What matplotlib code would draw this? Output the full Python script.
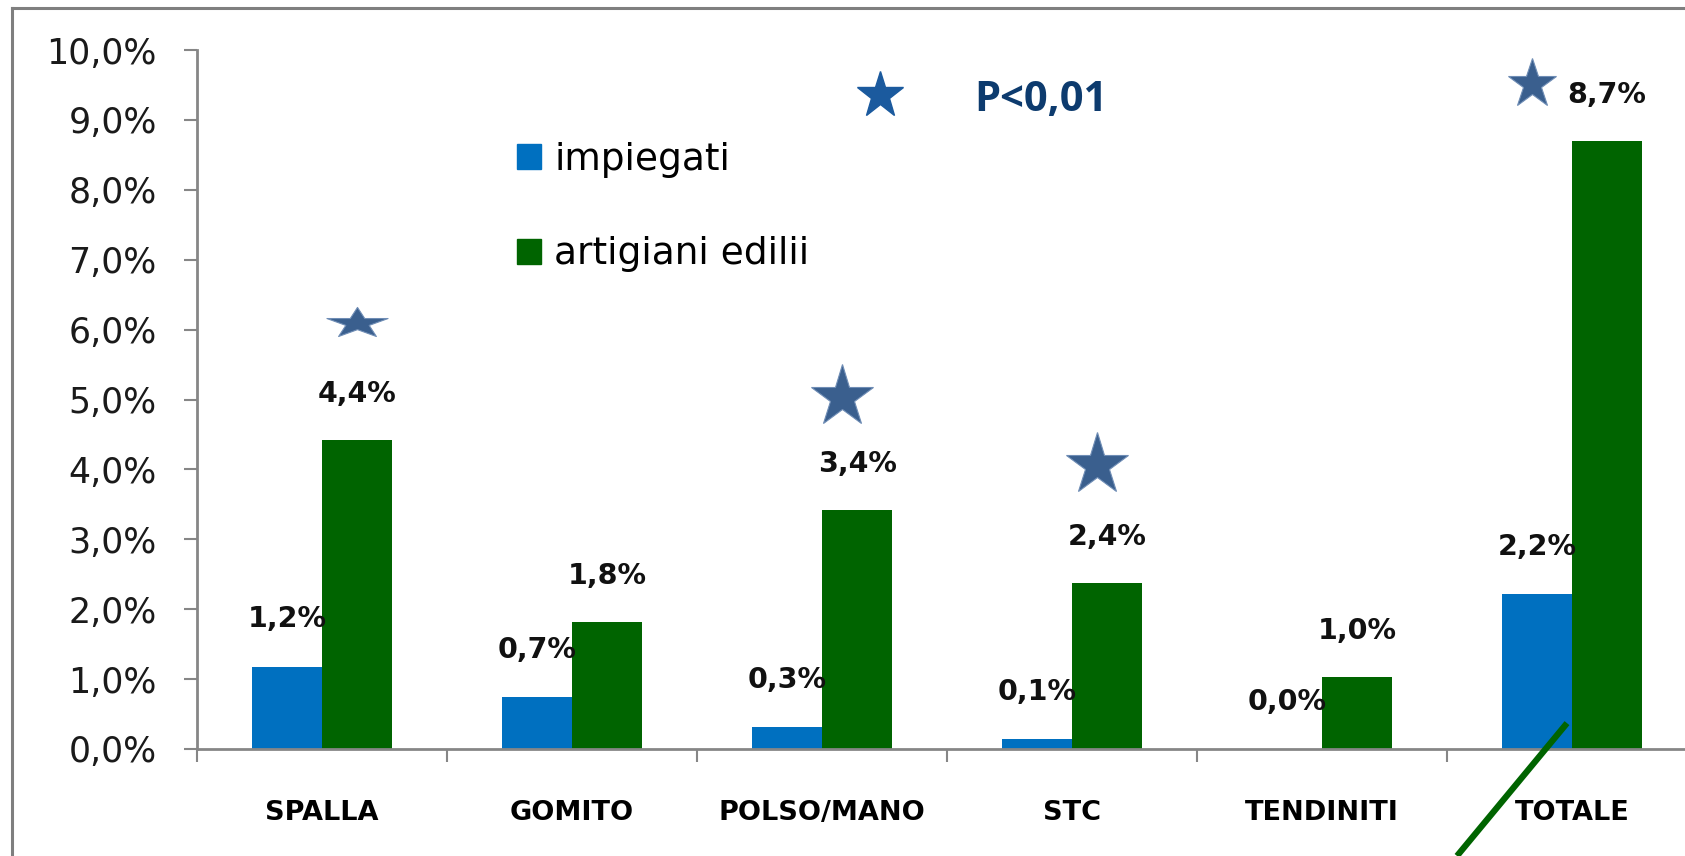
import numpy as np
import matplotlib.pyplot as plt
from matplotlib.lines import Line2D
from matplotlib.patches import Patch
from matplotlib.path import Path
from matplotlib.transforms import Affine2D

plt.rcParams['font.family'] = ['DejaVu Sans']

# dati
categories = ["SPALLA", "GOMITO", "POLSO/MANO", "STC", "TENDINITI", "TOTALE"]
impiegati = [1.18, 0.74, 0.31, 0.14, 0.0, 2.22]
artigiani = [4.42, 1.82, 3.42, 2.38, 1.03, 8.70]
series_names = ["impiegati", "artigiani edilii"]

# stelle di significativita (posizione in unita dei dati)
star_x = [0.14, 2.08, 3.10, 4.84]
star_y = [6.10, 5.03, 4.07, 9.52]
star_ms = [44, 47, 47, 37]
star_flat = [True, False, False, False]
legend_star = (2.23, 9.36)
p_text = "P<0,01"
p_pos = (2.61, 9.28)

# freccia verde sul totale
pointer_x = [4.98, 4.54]
pointer_y = [0.37, -1.53]

BLUE = "#0070C0"
GREEN = "#006400"
GRAY = "#868686"
STAR = "#3a5f8e"


def pct(v):
    return f"{v:.1f}%".replace(".", ",")


fig = plt.figure(figsize=(16.85, 8.56), dpi=100)
ax = fig.add_axes([197 / 1685, 107 / 856, 1500 / 1685, 699 / 856])

x = np.arange(len(categories))
w = 0.28
ax.bar(x - w / 2, impiegati, w, color=BLUE)
ax.bar(x + w / 2, artigiani, w, color=GREEN)

for i, v in enumerate(impiegati):
    ax.annotate(pct(v), (x[i] - w / 2, v), xytext=(0, 34), textcoords="offset points",
                ha="center", va="center", fontsize=20.5, fontweight="bold",
                color="#111111", zorder=7)
for i, v in enumerate(artigiani):
    ax.annotate(pct(v), (x[i] + w / 2, v), xytext=(0, 33), textcoords="offset points",
                ha="center", va="center", fontsize=20.5, fontweight="bold",
                color="#111111", zorder=7)

# stelle
star_path = Path.unit_regular_star(5, 0.381966)
flat_path = star_path.transformed(Affine2D().scale(1, 0.5))
for sx, sy, ms, flat in zip(star_x, star_y, star_ms, star_flat):
    ax.plot(sx, sy, marker=flat_path if flat else "*", ms=ms, color=STAR,
            mec="#6f8db5", mew=0.8, clip_on=False, zorder=5)
ax.plot(*legend_star, marker="*", ms=35, color="#1b5a9e", mec="#1b5a9e",
        clip_on=False, zorder=5)
ax.text(p_pos[0], p_pos[1], p_text, ha="left", va="center", fontsize=30,
        fontweight="bold", family="Open Sans", color="#0d3b6e")

ax.plot(pointer_x, pointer_y, color=GREEN, lw=4.5, clip_on=False, zorder=6,
        solid_capstyle="butt")

# assi
ax.set_xlim(-0.5, 5.5)
ax.set_ylim(0, 10)
ax.set_yticks(np.arange(0, 11, 1))
ax.set_yticklabels([pct(v) for v in np.arange(0, 11, 1)])
ax.tick_params(axis="y", length=9.4, width=1.5, color=GRAY, pad=19.5,
               labelsize=25, labelcolor="#1a1a1a")
ax.set_xticks(x)
ax.set_xticklabels(categories, fontweight="bold", fontsize=19.5)
ax.tick_params(axis="x", which="major", length=0, pad=37)
ax.set_xticks(np.arange(-0.5, 6, 1), minor=True)
ax.tick_params(axis="x", which="minor", length=9, width=1.5, color=GRAY)

for s in ["top", "right"]:
    ax.spines[s].set_visible(False)
for s in ["left", "bottom"]:
    ax.spines[s].set_color(GRAY)
    ax.spines[s].set_linewidth(2)

handles = [Patch(color=BLUE), Patch(color=GREEN)]
ax.legend(handles, series_names, loc="upper left", bbox_to_anchor=(0.213, 0.869),
          frameon=False, fontsize=27, handlelength=0.64, handleheight=0.64,
          handletextpad=0.37, labelspacing=1.57, borderpad=0, borderaxespad=0)

# cornice
fig.add_artist(Line2D([12 / 1685, 12 / 1685], [0, 1 - 8 / 856],
                      transform=fig.transFigure, color="#7f7f7f", lw=2.2))
fig.add_artist(Line2D([12 / 1685, 1], [1 - 8 / 856, 1 - 8 / 856],
                      transform=fig.transFigure, color="#7f7f7f", lw=2.2))

fig.savefig("out.png", dpi=100)
